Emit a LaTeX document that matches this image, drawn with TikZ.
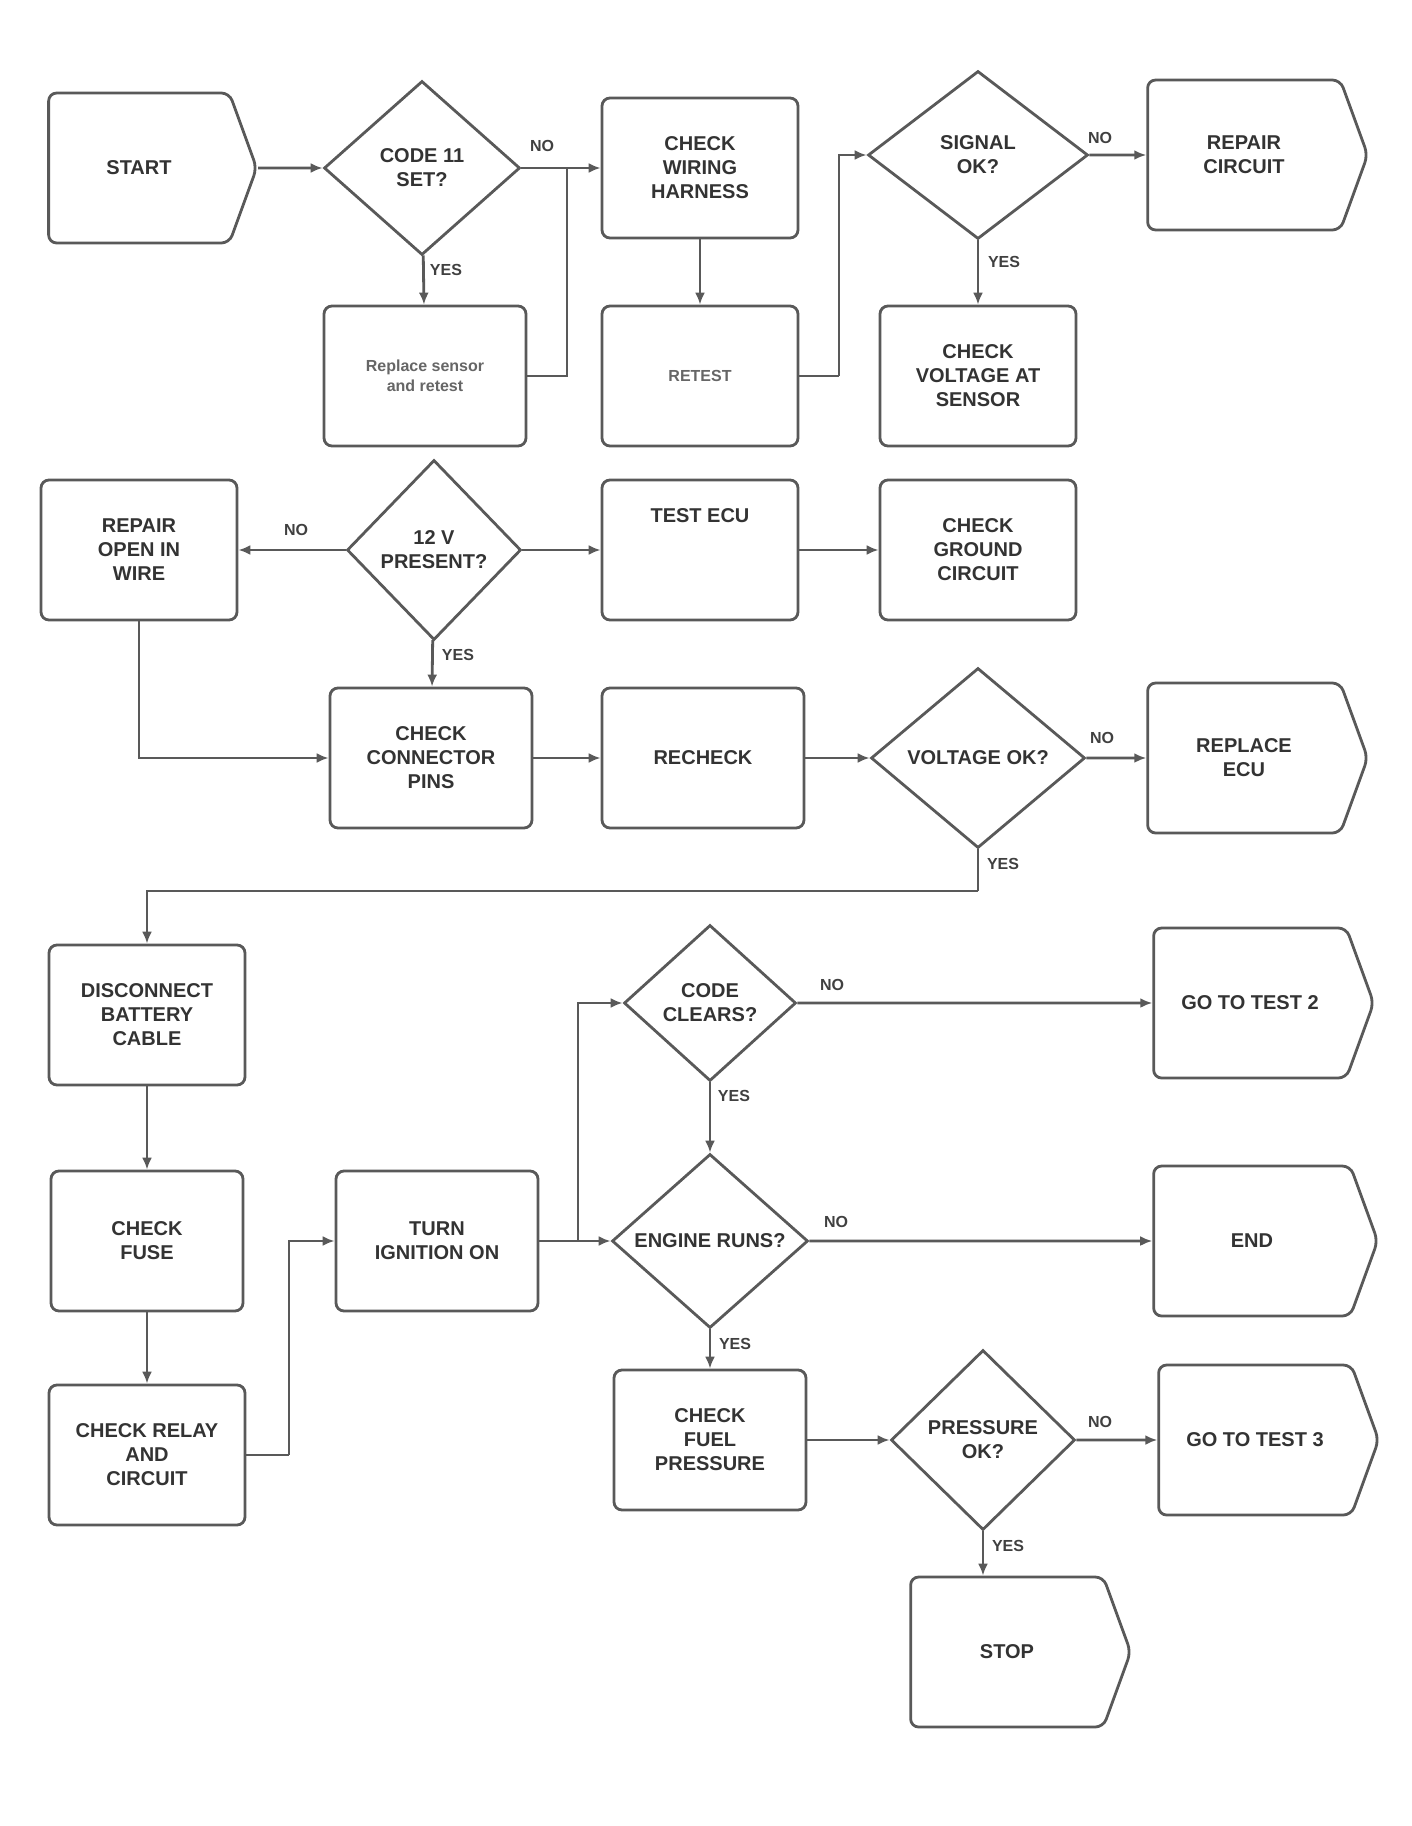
\documentclass[tikz,border=0pt]{standalone}
\usepackage{fontspec}
\setmainfont{Liberation Sans}
\usetikzlibrary{shapes.geometric,shapes.symbols,arrows.meta}
\begin{document}
\begin{tikzpicture}[x=0.5pt,y=-0.5pt,
  txt/.style={font=\bfseries\fontsize{10}{12}\selectfont, text=black!80, align=center},
  box/.style={txt, draw=black!65, line width=1.4pt, rounded corners=4pt,
    minimum width=98pt, minimum height=70pt, inner sep=3pt},
  dec/.style={txt, diamond, draw=black!65, line width=1.4pt,
    minimum width=100pt, minimum height=87pt, inner sep=0pt},
  term/.style={txt, signal, signal to=east, signal pointer angle=140, rounded corners=4pt,
    draw=black!65, line width=1.4pt, minimum width=110pt, minimum height=75pt, inner sep=3pt},
  lab/.style={font=\bfseries\fontsize{8}{9}\selectfont, text=black!75},
  con/.style={draw=black!65, line width=1.4pt, -{Latex[length=6pt,width=5pt]}},
  ln/.style={draw=black!65, line width=1.4pt}]
\fill[white] (0,0) rectangle (1412,1826);
\useasboundingbox (0,0) rectangle (1412,1826);

% row 1
\node[term, minimum width=104pt] (start) at (139,168) {START};
\node[dec, minimum width=98pt] (d1) at (422,168) {CODE 11\\SET?};
\node[box] (a) at (700,168) {CHECK\\WIRING\\HARNESS};
\node[dec, minimum width=110pt, minimum height=84pt] (d2) at (978,155) {SIGNAL\\OK?};
\node[term] (t1) at (1244,155) {REPAIR\\CIRCUIT};
% row 2
\node[box, minimum width=101pt, font=\bfseries\fontsize{8}{10}\selectfont, text=black!60] (b) at (425,376) {Replace sensor\\and retest};
\node[box, font=\bfseries\fontsize{8}{10}\selectfont, text=black!60] (c) at (700,376) {RETEST};
\node[box] (dd) at (978,376) {CHECK\\VOLTAGE AT\\SENSOR};
% row 3
\node[box] (e) at (139,550) {REPAIR\\OPEN IN\\WIRE};
\node[dec, minimum width=87pt, minimum height=90pt] (d3) at (434,550) {12 V\\PRESENT?};
\node[box] (f) at (700,550) {TEST ECU\\[22pt]};
\node[box] (g) at (978,550) {CHECK\\GROUND\\CIRCUIT};
% row 4
\node[box, minimum width=101pt] (h) at (431,758) {CHECK\\CONNECTOR\\PINS};
\node[box, minimum width=101pt] (i) at (703,758) {RECHECK};
\node[dec, minimum width=107pt, minimum height=90pt] (d4) at (978,758) {VOLTAGE OK?};
\node[term] (t2) at (1244,758) {REPLACE\\ECU};
% row 5
\node[box] (j) at (147,1015) {DISCONNECT\\BATTERY\\CABLE};
\node[dec, minimum width=86pt, minimum height=78pt] (d5) at (710,1003) {CODE\\CLEARS?};
\node[term] (t3) at (1250,1003) {GO TO TEST 2};
% row 6
\node[box, minimum width=96pt] (k) at (147,1241) {CHECK\\FUSE};
\node[box, minimum width=101pt] (l) at (437,1241) {TURN\\IGNITION ON};
\node[dec, minimum width=98pt] (d6) at (710,1241) {ENGINE RUNS?};
\node[term, minimum width=112pt] (t4) at (1252,1241) {END};
% row 7
\node[box] (m) at (147,1455) {CHECK RELAY\\AND\\CIRCUIT};
\node[box, minimum width=96pt] (n) at (710,1440) {CHECK\\FUEL\\PRESSURE};
\node[dec, minimum width=92pt, minimum height=90pt] (d7) at (983,1440) {PRESSURE\\OK?};
\node[term] (t5) at (1255,1440) {GO TO TEST 3};
% row 8
\node[term] (t6) at (1007,1652) {STOP};

% junction points
\coordinate (j1) at (567,168);
\coordinate (j2) at (839,376);
\coordinate (j3) at (978,891);
\coordinate (j4) at (289,1455);
\coordinate (j5) at (578,1241);

% connectors
\draw[con] (start) -- (d1);
\draw[con] (d1) -- (a);
\draw[ln] (b.east) -| (j1);
\draw[con] (d1) -- (b);
\draw[con] (a) -- (c);
\draw[ln] (c.east) -- (j2);
\draw[con] (j2) |- (d2.west);
\draw[con] (d2) -- (t1);
\draw[con] (d2) -- (dd);

\draw[con] (d3) -- (e);
\draw[con] (d3) -- (f);
\draw[con] (f) -- (g);
\draw[con] (d3) -- (h);
\draw[con] (e.south) |- (h.west);
\draw[con] (h) -- (i);
\draw[con] (i) -- (d4);
\draw[con] (d4) -- (t2);
\draw[ln] (d4.south) -- (j3);
\draw[con] (j3) -| (j.north);

\draw[con] (j) -- (k);
\draw[con] (k) -- (m);
\draw[ln] (m.east) -- (j4);
\draw[con] (j4) |- (l.west);
\draw[con] (l.east) -- (d6.west);
\draw[con] (j5) |- (d5.west);
\draw[con] (d5) -- (t3);
\draw[con] (d5) -- (d6);
\draw[con] (d6) -- (t4);
\draw[con] (d6) -- (n);
\draw[con] (n) -- (d7);
\draw[con] (d7) -- (t5);
\draw[con] (d7.south) -- (d7.south |- t6.north);

% labels
\node[lab] (l1) at (542,146) {NO};
\node[lab] (l2) at (446,270) {YES};
\node[lab] (l3) at (1100,138) {NO};
\node[lab] (l4) at (1004,262) {YES};
\node[lab] (l5) at (296,530) {NO};
\node[lab] (l6) at (458,655) {YES};
\node[lab] (l7) at (1102,738) {NO};
\node[lab] (l8) at (1003,864) {YES};
\node[lab] (l9) at (832,985) {NO};
\node[lab] (l10) at (734,1096) {YES};
\node[lab] (l11) at (836,1222) {NO};
\node[lab] (l12) at (735,1344) {YES};
\node[lab] (l13) at (1100,1422) {NO};
\node[lab] (l14) at (1008,1546) {YES};
\end{tikzpicture}
\end{document}
